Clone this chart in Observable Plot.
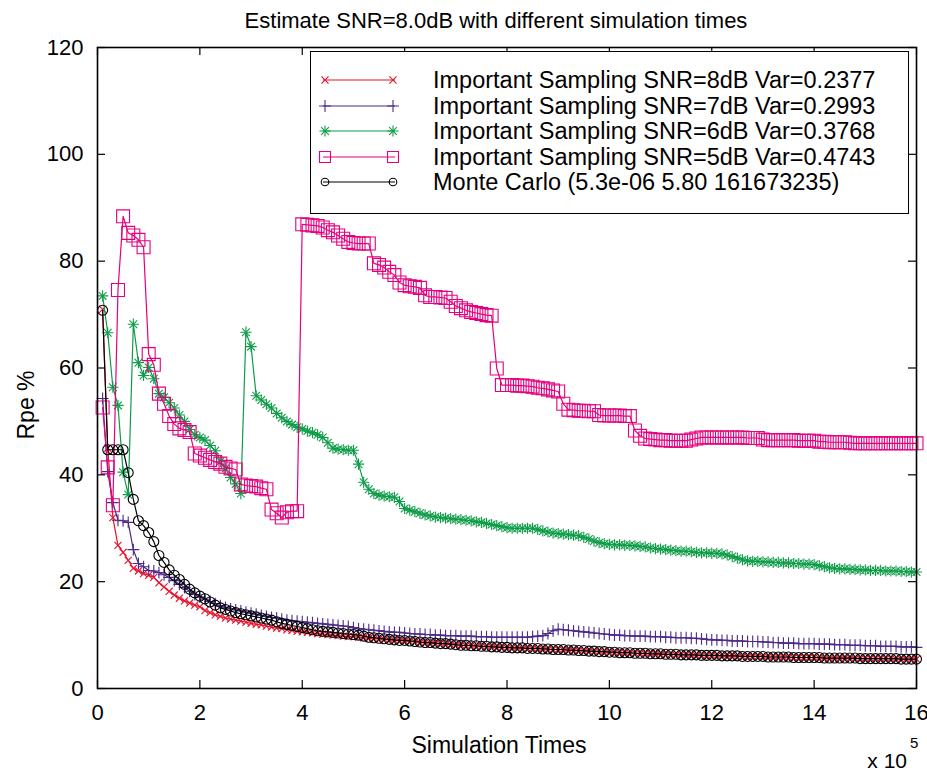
<!DOCTYPE html>
<html>
<head>
<meta charset="utf-8">
<script src="https://cdn.jsdelivr.net/npm/d3@7"></script>
<script src="https://cdn.jsdelivr.net/npm/@observablehq/plot@0.6"></script>
<style>
  body { margin: 0; background: #fff; font-family: "Liberation Sans", Arial, sans-serif; }
  #wrap { position: relative; width: 927px; height: 773px; }
  #legend { position: absolute; left: 310px; top: 51px; width: 599px; height: 163px;
            border: 1.4px solid #000; background: #fff; box-sizing: border-box; }
  #legend .row { position: absolute; left: 0; height: 26px; width: 100%; }
  #legend .row svg { position: absolute; left: 0; top: 0; }
  #legend .row span { position: absolute; left: 122px; top: 0; line-height: 26px;
            font-size: 23.5px; color: #000; white-space: nowrap; }
</style>
</head>
<body>
<div id="wrap"></div>
<script>
// Simulation times (x 10^5), one sample every 0.1
const xs = d3.range(1, 161).map(i => i / 10);
const xTicks = [0, 2, 4, 6, 8, 10, 12, 14, 16];
const yTicks = [0, 20, 40, 60, 80, 100, 120];

const snr8 = [
  71, 45, 32, 26.8, 25.5, 24, 22.5, 22, 21.5, 21.2,
  20.8, 19.8, 19, 18.2, 17.5, 16.9, 16.4, 16, 15.6, 15.3,
  14.6, 14.2, 13.8, 13.5, 13.2, 13.0, 12.8, 12.6, 12.4, 12.2,
  12.0, 11.9, 11.7, 11.5, 11.3, 11.2, 11.0, 10.9, 10.7, 10.6,
  10.5, 10.4, 10.3, 10.2, 10.1, 10.0, 9.9, 9.8, 9.7, 9.7,
  9.6, 9.5, 9.4, 9.3, 9.3, 9.2, 9.1, 9.0, 8.9, 8.9,
  8.8, 8.7, 8.6, 8.6, 8.5, 8.4, 8.4, 8.3, 8.2, 8.1,
  8.1, 8.0, 8.0, 7.9, 7.9, 7.8, 7.8, 7.7, 7.7, 7.6,
  7.6, 7.6, 7.5, 7.5, 7.5, 7.4, 7.4, 7.3, 7.3, 7.3,
  7.2, 7.2, 7.1, 7.1, 7.0, 7.0, 6.9, 6.9, 6.8, 6.8,
  6.7, 6.7, 6.7, 6.6, 6.6, 6.6, 6.5, 6.5, 6.5, 6.4,
  6.4, 6.4, 6.3, 6.3, 6.3, 6.3, 6.2, 6.2, 6.2, 6.2,
  6.1, 6.1, 6.1, 6.1, 6.0, 6.0, 6.0, 6.0, 6.0, 5.9,
  5.9, 5.9, 5.9, 5.9, 5.8, 5.8, 5.8, 5.8, 5.8, 5.8,
  5.7, 5.7, 5.7, 5.7, 5.7, 5.7, 5.7, 5.6, 5.6, 5.6,
  5.6, 5.6, 5.6, 5.6, 5.6, 5.5, 5.5, 5.5, 5.5, 5.5
];
const snr7 = [
  54.3, 40.6, 34.8, 31.5, 31.4, 31.1, 26.0, 23.4, 22.8, 22.1,
  22.0, 21.7, 21.3, 20.8, 20.2, 19.5, 18.9, 18.2, 17.6, 17.1,
  16.7, 16.3, 15.9, 15.5, 15.2, 14.9, 14.7, 14.5, 14.3, 14.1,
  13.9, 13.7, 13.5, 13.3, 13.2, 13.0, 12.8, 12.7, 12.6, 12.5,
  12.4, 12.3, 12.2, 12.1, 12.0, 11.9, 11.8, 11.7, 11.6, 11.4,
  11.2, 11.1, 11.0, 10.9, 10.8, 10.7, 10.6, 10.5, 10.5, 10.4,
  10.3, 10.2, 10.2, 10.1, 10.1, 10.0, 10.0, 9.9, 9.9, 9.9,
  9.8, 9.8, 9.8, 9.7, 9.7, 9.7, 9.6, 9.6, 9.6, 9.6,
  9.6, 9.6, 9.6, 9.6, 9.7, 9.8, 9.9, 10.3, 10.8, 11.1,
  11.0, 10.9, 10.8, 10.7, 10.6, 10.5, 10.4, 10.3, 10.2, 10.1,
  10.0, 10.0, 9.9, 9.9, 9.8, 9.8, 9.8, 9.7, 9.7, 9.7,
  9.6, 9.6, 9.5, 9.5, 9.5, 9.4, 9.4, 9.3, 9.2, 9.1,
  9.1, 9.0, 9.0, 8.9, 8.9, 8.9, 8.8, 8.8, 8.8, 8.7,
  8.7, 8.6, 8.6, 8.5, 8.5, 8.5, 8.4, 8.4, 8.4, 8.4,
  8.3, 8.3, 8.3, 8.2, 8.2, 8.2, 8.1, 8.1, 8.1, 8.0,
  8.0, 8.0, 7.9, 7.9, 7.9, 7.9, 7.8, 7.8, 7.8, 7.7
];
const snr6 = [
  73.5, 66.6, 56.4, 53.0, 40.5, 36.3, 68.2, 61.0, 58.6, 60.1,
  58.0, 55.2, 54.5, 53.5, 52.5, 51.2, 50.0, 48.5, 47.5, 47.0,
  46.5, 45.5, 44.5, 42.5, 41.2, 39.5, 38.3, 36.5, 66.7, 64.0,
  54.8, 54.0, 53.2, 52.5, 51.5, 50.7, 50.0, 49.4, 48.9, 48.6,
  48.2, 47.9, 47.5, 47.0, 46.0, 45.0, 44.8, 44.7, 44.6, 44.6,
  42.0, 38.6, 37.3, 36.5, 36.2, 36.0, 35.9, 35.8, 35.0, 33.7,
  33.4, 33.1, 32.8, 32.5, 32.3, 32.1, 32.0, 31.9, 31.8, 31.7,
  31.6, 31.5, 31.4, 31.2, 31.1, 30.9, 30.7, 30.5, 30.3, 30.1,
  30.0, 30.0, 30.0, 30.0, 30.0, 29.8, 29.5, 29.3, 29.1, 29.0,
  28.9, 28.8, 28.7, 28.6, 28.3, 28.0, 27.6, 27.3, 27.1, 27.0,
  26.9, 26.9, 26.8, 26.8, 26.7, 26.6, 26.5, 26.3, 26.2, 26.1,
  26.0, 25.9, 25.8, 25.7, 25.7, 25.6, 25.5, 25.4, 25.4, 25.3,
  25.3, 25.2, 25.0, 24.7, 24.4, 24.1, 23.9, 23.8, 23.8, 23.7,
  23.7, 23.6, 23.6, 23.5, 23.5, 23.4, 23.4, 23.3, 23.3, 23.2,
  23.0, 22.8, 22.6, 22.5, 22.4, 22.4, 22.3, 22.3, 22.2, 22.2,
  22.1, 22.1, 22.1, 22.0, 22.0, 22.0, 21.9, 21.9, 21.8, 21.8
];
const snr5 = [
  52.6, 41.4, 34.3, 74.6, 88.4, 85.3, 84.8, 84.0, 82.6, 62.6,
  60.6, 55.2, 53.3, 51.0, 49.5, 48.7, 48.4, 48.0, 44.0, 43.6,
  43.2, 42.8, 42.4, 42.1, 41.5, 41.2, 41.0, 38.2, 38.0, 37.9,
  37.8, 37.5, 37.3, 33.5, 32.8, 32.0, 33.0, 33.2, 33.2, 86.9,
  86.8, 86.7, 86.6, 86.3, 85.8, 85.4, 84.8, 84.2, 83.6, 83.4,
  83.3, 83.3, 83.3, 79.6, 79.3, 78.8, 78.0, 77.4, 76.0, 75.5,
  75.3, 75.2, 75.0, 73.6, 73.3, 73.3, 73.2, 73.1, 72.4, 71.6,
  71.2, 70.8, 70.5, 70.3, 70.1, 69.9, 69.8, 59.9, 56.8, 56.8,
  56.8, 56.7, 56.7, 56.6, 56.5, 56.3, 56.2, 56.0, 55.8, 55.6,
  53.3, 52.2, 52.1, 52.0, 52.0, 51.9, 51.9, 51.2, 51.1, 51.1,
  51.1, 51.1, 51.0, 51.0, 48.3, 47.3, 46.8, 46.7, 46.6, 46.5,
  46.5, 46.4, 46.4, 46.4, 46.4, 46.6, 46.8, 47.0, 47.0, 47.0,
  47.0, 47.0, 47.0, 47.0, 47.0, 47.0, 46.9, 46.9, 46.9, 46.6,
  46.5, 46.5, 46.5, 46.5, 46.5, 46.5, 46.4, 46.4, 46.4, 46.4,
  46.2, 46.2, 46.1, 46.1, 46.1, 46.1, 46.0, 45.9, 45.9, 45.9,
  45.9, 45.9, 45.9, 45.9, 45.9, 45.9, 45.9, 45.9, 45.9, 45.9
];
const mc = [
  70.8, 44.7, 44.7, 44.7, 44.7, 40.4, 35.4, 31.4, 30.5, 29.2,
  27.5, 24.9, 23.6, 22.2, 21.2, 20.4, 19.5, 18.6, 17.9, 17.3,
  16.8, 16.2, 15.6, 15.1, 14.8, 14.5, 14.2, 14.0, 13.8, 13.6,
  13.4, 13.2, 13.0, 12.8, 12.5, 12.2, 12.0, 11.8, 11.6, 11.4,
  11.2, 11.0, 10.8, 10.7, 10.6, 10.5, 10.4, 10.3, 10.2, 10.1,
  10.0, 9.8, 9.6, 9.5, 9.4, 9.3, 9.2, 9.1, 9.0, 9.0,
  8.9, 8.8, 8.7, 8.6, 8.6, 8.5, 8.4, 8.4, 8.3, 8.2,
  8.1, 8.1, 8.0, 8.0, 7.9, 7.9, 7.8, 7.8, 7.7, 7.7,
  7.6, 7.6, 7.6, 7.5, 7.5, 7.5, 7.4, 7.4, 7.3, 7.3,
  7.3, 7.2, 7.2, 7.1, 7.1, 7.0, 7.0, 6.9, 6.9, 6.8,
  6.8, 6.7, 6.7, 6.7, 6.6, 6.6, 6.6, 6.5, 6.5, 6.5,
  6.4, 6.4, 6.4, 6.3, 6.3, 6.3, 6.3, 6.2, 6.2, 6.2,
  6.2, 6.1, 6.1, 6.1, 6.1, 6.0, 6.0, 6.0, 6.0, 6.0,
  5.9, 5.9, 5.9, 5.9, 5.9, 5.8, 5.8, 5.8, 5.8, 5.8,
  5.8, 5.7, 5.7, 5.7, 5.7, 5.7, 5.7, 5.7, 5.6, 5.6,
  5.6, 5.6, 5.6, 5.6, 5.6, 5.6, 5.5, 5.5, 5.5, 5.5
];

const labels = [
  "Important Sampling SNR=8dB Var=0.2377",
  "Important Sampling SNR=7dB Var=0.2993",
  "Important Sampling SNR=6dB Var=0.3768",
  "Important Sampling SNR=5dB Var=0.4743",
  "Monte Carlo (5.3e-06 5.80 161673235)"
];
const colors = ["#E8112D", "#4B2A8C", "#0E9C48", "#E4007F", "#000000"];
const values = [snr8, snr7, snr6, snr5, mc];
const symbolSets = [
  [{name: "times", r: 3.3}],
  [{name: "plus", r: 3.9}],
  [{name: "plus", r: 3.7}, {name: "times", r: 3.6}],
  [{name: "square", r: 7.3}],
  [{name: "circle", r: 5}]
];
const d3sym = {times: d3.symbolTimes, plus: d3.symbolPlus, square: d3.symbolSquare, circle: d3.symbolCircle};

const W = 927, H = 773, mL = 97, mR = 11, mT = 47, mB = 85;
const fw = W - mL - mR, fh = H - mT - mB, tk = 8;
const FONT = "Liberation Sans, Arial, sans-serif";

const marks = [];
values.forEach((vals, k) => {
  const data = xs.map((x, i) => ({x, y: vals[i]}));
  marks.push(Plot.line(data, {x: "x", y: "y", stroke: colors[k], strokeWidth: 1.2}));
  symbolSets[k].forEach(s => {
    marks.push(Plot.dot(data, {x: "x", y: "y", symbol: s.name, r: s.r, stroke: colors[k], fill: "none", strokeWidth: 1.1}));
  });
});

const chart = Plot.plot({
  width: W, height: H,
  marginLeft: mL, marginRight: mR, marginTop: mT, marginBottom: mB,
  style: {fontFamily: FONT, fontSize: "22px", color: "#000", background: "#fff"},
  x: {domain: [0, 16]},
  y: {domain: [0, 120]},
  marks: [
    ...marks,
    Plot.ruleX(xTicks, {x: d => d, insetTop: fh - tk, stroke: "#000", strokeWidth: 1.2}),
    Plot.ruleX(xTicks, {x: d => d, insetBottom: fh - tk, stroke: "#000", strokeWidth: 1.2}),
    Plot.ruleY(yTicks, {y: d => d, insetRight: fw - tk, stroke: "#000", strokeWidth: 1.2}),
    Plot.ruleY(yTicks, {y: d => d, insetLeft: fw - tk, stroke: "#000", strokeWidth: 1.2}),
    Plot.frame({stroke: "#000", strokeWidth: 1.6}),
    Plot.axisX(xTicks, {tickSize: 0, tickPadding: 16, label: null, fontSize: 22}),
    Plot.axisY(yTicks, {tickSize: 0, tickPadding: 14, label: null, fontSize: 22})
  ]
});

const wrap = d3.select("#wrap");
wrap.node().appendChild(chart);

// Title, axis labels and the x10^5 exponent as SVG text
const svg = d3.select(chart);
const addText = (txt, x, y, size, anchor, rot) => {
  const t = svg.append("text").text(txt)
    .attr("font-family", FONT).attr("font-size", size).attr("fill", "#000")
    .attr("text-anchor", anchor).attr("dominant-baseline", "central");
  if (rot) t.attr("transform", `translate(${x},${y}) rotate(${rot})`);
  else t.attr("x", x).attr("y", y);
  return t;
};
addText("Estimate SNR=8.0dB with different simulation times", 496, 20, 22, "middle");
addText("Simulation Times", 499, 745, 23, "middle");
addText("Rpe %", 26, 405, 23, "middle", -90);
addText("x 10", 907, 760, 21, "end");
addText("5", 910, 742, 15, "start");

// Legend overlay
const legend = wrap.append("div").attr("id", "legend");
labels.forEach((lab, k) => {
  const row = legend.append("div").attr("class", "row").style("top", (15 + k * 25.5) + "px");
  const ls = row.append("svg").attr("width", 100).attr("height", 26);
  ls.append("line").attr("x1", 12).attr("x2", 84).attr("y1", 13).attr("y2", 13)
     .attr("stroke", colors[k]).attr("stroke-width", 1.2);
  [14, 82].forEach(cx => {
    symbolSets[k].forEach(s => {
      const rr = s.name === "circle" ? 3.8 : s.name === "square" ? 6.2 : s.r;
      ls.append("path")
        .attr("transform", `translate(${cx},13)`)
        .attr("d", d3.symbol(d3sym[s.name], Math.PI * rr * rr)())
        .attr("fill", "none").attr("stroke", colors[k]).attr("stroke-width", 1.1);
    });
  });
  row.append("span").text(lab);
});
</script>
</body>
</html>
